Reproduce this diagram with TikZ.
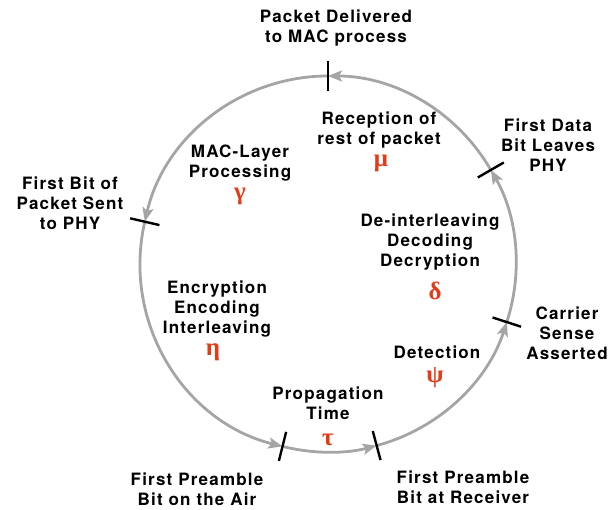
\documentclass[tikz,border=0pt]{standalone}
\usepackage{fontspec}
\setmainfont[LetterSpace=7]{TeX Gyre Heros}
\newfontfamily\grk{Liberation Serif}
\usetikzlibrary{arrows.meta}
\definecolor{ringgray}{RGB}{165,165,165}
\definecolor{greekred}{RGB}{228,58,22}
\tikzset{
  ring/.style={draw=ringgray, line width=2.8pt, -{Stealth[length=14pt,width=11pt,inset=3pt]}},
  tickmark/.style={draw=black, line width=2.4pt},
  lbl/.style={align=center, inner sep=0pt, font=\bfseries\fontsize{17}{20}\selectfont},
  grklbl/.style={inner sep=0pt, text=greekred, font=\grk\bfseries\fontsize{25}{25}\selectfont}
}
\begin{document}
\begin{tikzpicture}[x=1pt,y=1pt]
\useasboundingbox (-328,264) rectangle (283,-246);
\def\R{188}
% tick coordinates
\coordinate (tA) at (90:\R);
\coordinate (tB) at (167:\R);
\coordinate (tC) at (256:\R);
\coordinate (tD) at (285:\R);
\coordinate (tE) at (342:\R);
\coordinate (tF) at (30:\R);
% ring arcs (counterclockwise flow)
\draw[ring] (tA) arc[start angle=90, end angle=167, radius=\R];
\draw[ring] (tB) arc[start angle=167, end angle=256, radius=\R];
\draw[ring] (tC) arc[start angle=256, end angle=285, radius=\R];
\draw[ring] (tD) arc[start angle=285, end angle=342, radius=\R];
\draw[ring] (tE) arc[start angle=-18, end angle=30, radius=\R];
\draw[ring] (tF) arc[start angle=30, end angle=90, radius=\R];
% ticks
\foreach \a in {90,167,256,285,342,30}{
  \draw[tickmark] (\a:\R-15) -- (\a:\R+15);
}
% outer labels
\node[lbl] (pd) at (8,236) {Packet Delivered\\to MAC process};
\node[lbl] (fd) at (220,119) {First Data\\Bit Leaves\\PHY};
\node[lbl] (fb) at (-258,61) {First Bit of\\Packet Sent\\to PHY};
\node[lbl] (cs) at (239,-69) {Carrier\\Sense\\Asserted};
\node[lbl] (fa) at (-131,-225) {First Preamble\\Bit on the Air};
\node[lbl] (fr) at (135,-223) {First Preamble\\Bit at Receiver};
% inner labels
\node[lbl] (rp) at (51,134) {Reception of\\rest of packet};
\node[grklbl] (mu) at (53,101) {μ};
\node[lbl] (ml) at (-88,101) {MAC-Layer\\Processing};
\node[grklbl] (ga) at (-88,68) {γ};
\node[lbl] (dd) at (102,22) {De-interleaving\\Decoding\\Decryption};
\node[grklbl] (de) at (107,-27) {δ};
\node[lbl] (ee) at (-111,-45) {Encryption\\Encoding\\Interleaving};
\node[grklbl] (et) at (-115,-88) {η};
\node[lbl] (dt) at (109,-88) {Detection};
\node[grklbl] (ps) at (107,-114) {ψ};
\node[lbl] (pt) at (0,-139) {Propagation\\Time};
\node[grklbl] (ta) at (0,-176) {τ};
\end{tikzpicture}
\end{document}
